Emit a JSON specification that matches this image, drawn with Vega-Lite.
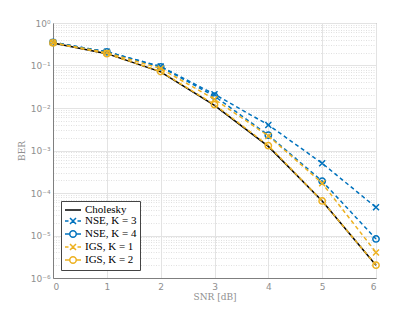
{
  "$schema": "https://vega.github.io/schema/vega-lite/v6.json",
  "autosize": {"type": "none"},
  "width": 323,
  "height": 255,
  "padding": {"left": 53, "top": 23, "right": 39, "bottom": 34},
  "background": "white",
  "config": {
    "view": {"stroke": "#7f7f7f", "strokeWidth": 1},
    "axis": {
      "labelFont": "DejaVu Sans",
      "labelFontSize": 9,
      "labelColor": "#8f8f8f",
      "titleFont": "DejaVu Serif",
      "titleFontSize": 9,
      "titleFontWeight": "normal",
      "titleColor": "#8f8f8f",
      "domainColor": "#7f7f7f",
      "ticks": false
    },
    "legend": {
      "title": null,
      "orient": "bottom-left",
      "offset": 8,
      "fillColor": "white",
      "strokeColor": "#444444",
      "padding": 3,
      "labelFont": "Liberation Serif",
      "labelFontSize": 11,
      "labelColor": "#000000",
      "symbolSize": 100,
      "symbolStrokeWidth": 1.5,
      "symbolOffset": 3,
      "labelOffset": 6,
      "rowPadding": 0,
      "symbolOpacity": 1,
      "symbolFillColor": "transparent"
    }
  },
  "data": {
    "values": [
      {"snr": 0, "ber": 0.34, "series": "Cholesky"},
      {"snr": 1, "ber": 0.19, "series": "Cholesky"},
      {"snr": 2, "ber": 0.071, "series": "Cholesky"},
      {"snr": 3, "ber": 0.0115, "series": "Cholesky"},
      {"snr": 4, "ber": 0.00125, "series": "Cholesky"},
      {"snr": 5, "ber": 0.000065, "series": "Cholesky"},
      {"snr": 6, "ber": 0.000002, "series": "Cholesky"},
      {"snr": 0, "ber": 0.35, "series": "NSE, K = 3"},
      {"snr": 1, "ber": 0.21, "series": "NSE, K = 3"},
      {"snr": 2, "ber": 0.095, "series": "NSE, K = 3"},
      {"snr": 3, "ber": 0.021, "series": "NSE, K = 3"},
      {"snr": 4, "ber": 0.004, "series": "NSE, K = 3"},
      {"snr": 5, "ber": 0.0005, "series": "NSE, K = 3"},
      {"snr": 6, "ber": 0.000046, "series": "NSE, K = 3"},
      {"snr": 0, "ber": 0.35, "series": "NSE, K = 4"},
      {"snr": 1, "ber": 0.21, "series": "NSE, K = 4"},
      {"snr": 2, "ber": 0.093, "series": "NSE, K = 4"},
      {"snr": 3, "ber": 0.019, "series": "NSE, K = 4"},
      {"snr": 4, "ber": 0.0023, "series": "NSE, K = 4"},
      {"snr": 5, "ber": 0.00019, "series": "NSE, K = 4"},
      {"snr": 6, "ber": 0.0000083, "series": "NSE, K = 4"},
      {"snr": 0, "ber": 0.345, "series": "IGS, K = 1"},
      {"snr": 1, "ber": 0.2, "series": "IGS, K = 1"},
      {"snr": 2, "ber": 0.085, "series": "IGS, K = 1"},
      {"snr": 3, "ber": 0.016, "series": "IGS, K = 1"},
      {"snr": 4, "ber": 0.0022, "series": "IGS, K = 1"},
      {"snr": 5, "ber": 0.00017, "series": "IGS, K = 1"},
      {"snr": 6, "ber": 0.000004, "series": "IGS, K = 1"},
      {"snr": 0, "ber": 0.34, "series": "IGS, K = 2"},
      {"snr": 1, "ber": 0.19, "series": "IGS, K = 2"},
      {"snr": 2, "ber": 0.072, "series": "IGS, K = 2"},
      {"snr": 3, "ber": 0.012, "series": "IGS, K = 2"},
      {"snr": 4, "ber": 0.0013, "series": "IGS, K = 2"},
      {"snr": 5, "ber": 0.000065, "series": "IGS, K = 2"},
      {"snr": 6, "ber": 0.000002, "series": "IGS, K = 2"}
    ]
  },
  "encoding": {
    "x": {
      "field": "snr", "type": "quantitative",
      "scale": {"domain": [0, 6], "nice": false, "zero": false},
      "axis": {
        "title": "SNR [dB]", "values": [0, 1, 2, 3, 4, 5, 6],
        "gridColor": "#e3e3e3", "gridWidth": 1,
        "labelPadding": 4, "titlePadding": 1
      }
    },
    "y": {
      "field": "ber", "type": "quantitative",
      "scale": {"type": "log", "domain": [0.000001, 1], "nice": false},
      "axis": {
        "title": "BER",
        "values": [0.000001, 0.000002, 0.000003, 0.000004, 0.000005, 0.000006, 0.000007, 0.000008, 0.000009,
                   0.00001, 0.00002, 0.00003, 0.00004, 0.00005, 0.00006, 0.00007, 0.00008, 0.00009,
                   0.0001, 0.0002, 0.0003, 0.0004, 0.0005, 0.0006, 0.0007, 0.0008, 0.0009,
                   0.001, 0.002, 0.003, 0.004, 0.005, 0.006, 0.007, 0.008, 0.009,
                   0.01, 0.02, 0.03, 0.04, 0.05, 0.06, 0.07, 0.08, 0.09,
                   0.1, 0.2, 0.3, 0.4, 0.5, 0.6, 0.7, 0.8, 0.9, 1],
        "labelExpr": "abs(log(datum.value)/LN10 - round(log(datum.value)/LN10)) < 0.001 ? '10' + ['⁰','⁻¹','⁻²','⁻³','⁻⁴','⁻⁵','⁻⁶'][-round(log(datum.value)/LN10)] : ''",
        "labelOverlap": false,
        "labelPadding": 3,
        "titlePadding": 4,
        "gridColor": {"condition": {"test": "abs(log(datum.value)/LN10 - round(log(datum.value)/LN10)) < 0.001", "value": "#e3e3e3"}, "value": "#e0e0e0"},
        "gridDash": {"condition": {"test": "abs(log(datum.value)/LN10 - round(log(datum.value)/LN10)) < 0.001", "value": []}, "value": [1, 1.5]}
      }
    },
    "color": {
      "field": "series", "type": "nominal",
      "scale": {
        "domain": ["Cholesky", "NSE, K = 3", "NSE, K = 4", "IGS, K = 1", "IGS, K = 2"],
        "range": ["#000000", "#0072BD", "#0072BD", "#EDB120", "#EDB120"]
      }
    }
  },
  "layer": [
    {
      "transform": [{"filter": "false"}],
      "mark": {"type": "point", "filled": false, "strokeWidth": 1.5, "opacity": 1},
      "encoding": {
        "shape": {
          "field": "series", "type": "nominal",
          "scale": {
            "domain": ["Cholesky", "NSE, K = 3", "NSE, K = 4", "IGS, K = 1", "IGS, K = 2"],
            "range": [
              "M-1.6,0H1.6",
              "M-1.6,0H-0.9M-0.6,-0.6L0.6,0.6M-0.6,0.6L0.6,-0.6M0.9,0H1.6",
              "M-1.6,0H-0.65M0.65,0H1.6M0.65,0A0.65,0.65,0,1,1,-0.65,0A0.65,0.65,0,1,1,0.65,0",
              "M-1.6,0H-0.9M-0.6,-0.6L0.6,0.6M-0.6,0.6L0.6,-0.6M0.9,0H1.6",
              "M-1.6,0H-0.65M0.65,0H1.6M0.65,0A0.65,0.65,0,1,1,-0.65,0A0.65,0.65,0,1,1,0.65,0"
            ]
          }
        }
      }
    },
    {
      "transform": [{"filter": {"field": "series", "equal": "Cholesky"}}],
      "mark": {"type": "line", "strokeWidth": 1.5}
    },
    {
      "transform": [{"filter": {"field": "series", "oneOf": ["NSE, K = 3", "NSE, K = 4"]}}],
      "mark": {"type": "line", "strokeWidth": 1.5, "strokeDash": [4, 3]}
    },
    {
      "transform": [{"filter": {"field": "series", "equal": "NSE, K = 3"}}],
      "mark": {"type": "point", "shape": "M-1,-1L1,1M-1,1L1,-1", "size": 36, "filled": false, "strokeWidth": 1.5, "opacity": 1}
    },
    {
      "transform": [{"filter": {"field": "series", "equal": "NSE, K = 4"}}],
      "mark": {"type": "point", "shape": "circle", "size": 40, "filled": false, "strokeWidth": 1.5, "opacity": 1}
    },
    {
      "transform": [{"filter": {"field": "series", "oneOf": ["IGS, K = 1", "IGS, K = 2"]}}],
      "mark": {"type": "line", "strokeWidth": 1.5, "strokeDash": [4, 3]}
    },
    {
      "transform": [{"filter": {"field": "series", "equal": "IGS, K = 1"}}],
      "mark": {"type": "point", "shape": "M-1,-1L1,1M-1,1L1,-1", "size": 36, "filled": false, "strokeWidth": 1.5, "opacity": 1}
    },
    {
      "transform": [{"filter": {"field": "series", "equal": "IGS, K = 2"}}],
      "mark": {"type": "point", "shape": "circle", "size": 40, "filled": false, "strokeWidth": 1.5, "opacity": 1}
    }
  ]
}
